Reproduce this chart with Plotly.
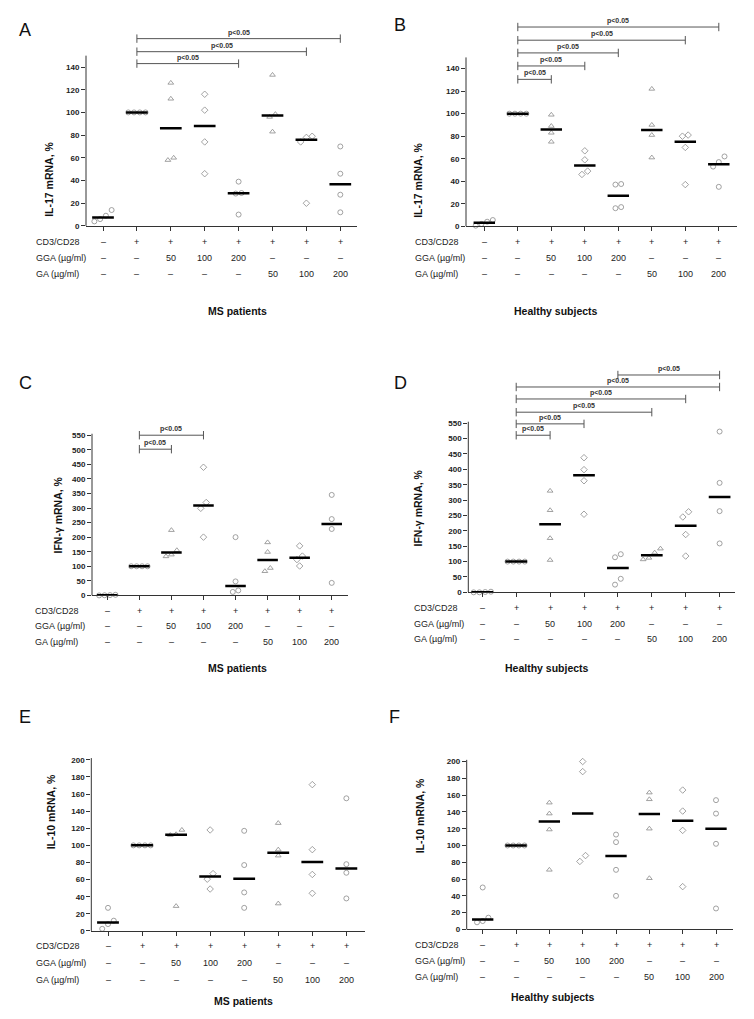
"""
Expresión de IL-17, IFN-γ e IL-10 (mRNA, %) en pacientes con EM y sujetos sanos
"""
import numpy as np
import plotly.graph_objects as go

W, H = 754, 1019
FONT = 'Arial, Liberation Sans, sans-serif'

# filas de la tabla de condiciones
row_labels = ['CD3/CD28', 'GGA (µg/ml)', 'GA (µg/ml)']
cd3 = ['–', '+', '+', '+', '+', '+', '+', '+']
gga = ['–', '–', '50', '100', '200', '–', '–', '–']
ga = ['–', '–', '–', '–', '–', '50', '100', '200']

# valores individuales (4 donantes por condición)
il17_ms = [[14, 9, 4, 6], [100, 100, 100, 100], [126, 112, 58, 60], [116, 102, 74, 46],
           [39, 29, 28.5, 10], [133, 98.5, 96, 83], [78, 74, 79, 20], [70, 46, 27.5, 12]]
il17_hs = [[4, 0.5, 2, 5.5], [100, 100, 100, 100], [99, 89, 83, 75], [67, 59, 49, 46],
           [37.5, 37, 16, 17], [122, 90, 81, 61], [80, 81, 70, 37], [62, 57, 53, 35]]
ifng_ms = [[0, 1, 0.5, 2], [100, 100, 100, 100], [224, 155, 134, 140], [440, 319, 299, 200],
           [200, 48, 12, 17], [182, 149, 83, 94], [170, 135, 123, 101], [345, 262, 228, 43]]
ifng_hs = [[0, 0, 1, 2], [100, 100, 100, 100], [330, 267, 176, 105], [438, 399, 363, 254],
           [124, 114, 44, 25], [142, 107, 112, 129], [245, 262, 188, 118], [523, 356, 264, 159]]
il10_ms = [[27, 12, 8, 2.5], [100, 100, 100, 100], [118, 113, 112, 29], [118, 67, 60.5, 49],
           [117, 77, 45, 27], [126, 95, 88, 32], [171, 95, 66, 44], [155, 78, 68, 38]]
il10_hs = [[50, 14, 8.5, 10], [100, 100, 100, 100], [151, 138, 119, 71], [200, 188, 88, 81],
           [113, 104, 71, 40], [163, 155, 120, 61], [166, 141, 118, 51], [154, 138, 102, 25]]

# comparaciones significativas (grupo inicial, grupo final)
sig_a = [(1, 4), (1, 6), (1, 7)]
sig_b = [(1, 2), (1, 3), (1, 4), (1, 6), (1, 7)]
sig_c = [(1, 2), (1, 3)]
sig_d = [(1, 2), (1, 3), (1, 5), (1, 6), (1, 7), (4, 7)]

symbols = ['circle-open', 'circle-open', 'triangle-up-open', 'diamond-open',
           'circle-open', 'triangle-up-open', 'diamond-open', 'circle-open']

# geometría de cada panel (en píxeles de la imagen)
panels = [
    dict(letra='A', datos=il17_ms, titulo='IL-17 mRNA, %', grupo='MS patients', sig=sig_a,
         sig_y=[143, 153.5, 165], xpx=(78, 349), c0=95, sp=33.9, y0=219, esc=1.1407,
         ytop=175, axtop=150, dtick=20, tmax=140, pos_letra=(17, 22), pos_tit=(33, 133),
         filas=(235, 251, 267), lab_x=26, grupo_pos=(198, 296)),
    dict(letra='B', datos=il17_hs, titulo='IL-17 mRNA, %', grupo='Healthy subjects', sig=sig_b,
         sig_y=[130.5, 142.4, 154, 165.3, 177], xpx=(458, 729), c0=476.3, sp=33.5, y0=219.3,
         esc=1.131, ytop=190, axtop=150, dtick=20, tmax=140, pos_letra=(392, 17),
         pos_tit=(410, 133), filas=(235, 251.7, 267.3), lab_x=405, grupo_pos=(592, 296)),
    dict(letra='C', datos=ifng_ms, titulo='IFN-γ mRNA, %', grupo='MS patients', sig=sig_c,
         sig_y=[502, 550], xpx=(84, 339.5), c0=99.3, sp=32.06, y0=590.3, esc=0.2927,
         ytop=590, axtop=555, dtick=50, tmax=550, pos_letra=(17, 377), pos_tit=(42, 510),
         filas=(605.7, 621, 636.7), lab_x=25, grupo_pos=(198, 663)),
    dict(letra='D', datos=ifng_hs, titulo='IFN-γ mRNA, %', grupo='Healthy subjects', sig=sig_d,
         sig_y=[511, 548, 586, 629, 668, 707], xpx=(460.3, 727), c0=474.3, sp=33.9, y0=587.2,
         esc=0.3089, ytop=730, axtop=555, dtick=50, tmax=550, pos_letra=(392, 377),
         pos_tit=(410, 502), filas=(602.7, 619, 634.3), lab_x=404, grupo_pos=(583, 663)),
    dict(letra='E', datos=il10_ms, titulo='IL-10 mRNA, %', grupo='MS patients', sig=[],
         sig_y=[], xpx=(83.3, 356.7), c0=100, sp=34.05, y0=927.5, esc=0.86,
         ytop=205, axtop=202, dtick=20, tmax=200, pos_letra=(17, 712), pos_tit=(35, 848),
         filas=(942.7, 960, 976.7), lab_x=26, grupo_pos=(204, 1006)),
    dict(letra='F', datos=il10_hs, titulo='IL-10 mRNA, %', grupo='Healthy subjects', sig=[],
         sig_y=[], xpx=(458.7, 724.7), c0=474.7, sp=33.33, y0=926, esc=0.8438,
         ytop=205, axtop=202, dtick=20, tmax=200, pos_letra=(386, 712), pos_tit=(412, 852),
         filas=(941.7, 957.7, 973.3), lab_x=405, grupo_pos=(589, 1002)),
]


def jitter(vals, tol):
    """Separa horizontalmente los puntos con valores casi iguales"""
    vals = np.asarray(vals, dtype=float)
    order = np.argsort(vals)
    offs = np.zeros(len(vals))
    clusters, cur = [], [order[0]]
    for a, b in zip(order[:-1], order[1:]):
        if vals[b] - vals[a] < tol:
            cur.append(b)
        else:
            clusters.append(cur)
            cur = [b]
    clusters.append(cur)
    for c in clusters:
        for r, idx in enumerate(c):
            offs[idx] = (r - (len(c) - 1) / 2) * 0.17
    return offs


fig = go.Figure()
layout = {}
shapes = []
annotations = []

for i, p in enumerate(panels):
    n = '' if i == 0 else str(i + 1)
    xa, ya = 'x' + n, 'y' + n
    x0, x1 = p['xpx']
    y_top_px = p['y0'] - p['ytop'] * p['esc']

    layout['xaxis' + n] = dict(
        domain=[x0 / W, x1 / W],
        range=[(x0 - p['c0']) / p['sp'], (x1 - p['c0']) / p['sp']],
        anchor=ya, tickvals=list(range(8)), showticklabels=False,
        ticks='outside', ticklen=4, tickcolor='#333', showline=True,
        linecolor='#333', linewidth=1, showgrid=False, zeroline=False
    )
    layout['yaxis' + n] = dict(
        domain=[1 - p['y0'] / H, 1 - y_top_px / H],
        range=[0, p['ytop']], anchor=xa,
        tickvals=list(range(0, p['tmax'] + 1, p['dtick'])),
        ticks='outside', ticklen=4, tickcolor='#333', showline=False,
        showgrid=False, zeroline=False,
        tickfont=dict(family=FONT, size=8, color='#222', weight='bold')
    )
    # eje Y dibujado hasta su tope real
    shapes.append(dict(type='line', xref='paper', yref='paper',
                       x0=x0 / W, x1=x0 / W, y0=1 - p['y0'] / H,
                       y1=1 - (p['y0'] - p['axtop'] * p['esc']) / H,
                       line=dict(color='#333', width=1)))

    # puntos individuales
    tol = 6 / p['esc']
    xs, ys, syms = [], [], []
    for j, vals in enumerate(p['datos']):
        offs = jitter(vals, tol)
        xs += list(j + offs)
        ys += list(vals)
        syms += [symbols[j]] * len(vals)
    fig.add_trace(go.Scatter(
        x=xs, y=ys, mode='markers', xaxis=xa, yaxis=ya, cliponaxis=False,
        marker=dict(symbol=syms, size=5, color='#8a8a8a', line=dict(color='#8a8a8a', width=0.8)),
        hoverinfo='y'
    ))

    # medianas
    mx, my = [], []
    for j, vals in enumerate(p['datos']):
        m = float(np.median(vals))
        mx += [j - 0.32, j + 0.32, None]
        my += [m, m, None]
    fig.add_trace(go.Scatter(
        x=mx, y=my, mode='lines', xaxis=xa, yaxis=ya, cliponaxis=False,
        line=dict(color='black', width=2.5), hoverinfo='skip'
    ))

    # barras de significación
    for (g0, g1), yb in zip(p['sig'], p['sig_y']):
        fig.add_trace(go.Scatter(
            x=[g0, g1], y=[yb, yb], mode='lines+markers', xaxis=xa, yaxis=ya,
            cliponaxis=False, line=dict(color='#555', width=1),
            marker=dict(symbol='line-ns-open', size=6, line=dict(color='#555', width=1)),
            hoverinfo='skip'
        ))
        annotations.append(dict(
            x=(g0 + g1) / 2, y=yb, xref=xa, yref=ya, text='p<0.05', showarrow=False,
            yanchor='bottom', yshift=0,
            font=dict(family=FONT, size=7, color='#333', weight='bold')
        ))

    # tabla de condiciones
    for label, vals, ypx in zip(row_labels, [cd3, gga, ga], p['filas']):
        annotations.append(dict(
            x=p['lab_x'] / W, y=1 - ypx / H, xref='paper', yref='paper', text=label,
            showarrow=False, xanchor='left', yanchor='middle',
            font=dict(family=FONT, size=9, color='#222')
        ))
        for j, v in enumerate(vals):
            annotations.append(dict(
                x=j, y=1 - ypx / H, xref=xa, yref='paper', text=v, showarrow=False,
                xanchor='center', yanchor='middle',
                font=dict(family=FONT, size=9, color='#222')
            ))

    # título del eje Y, grupo y letra del panel
    annotations.append(dict(
        x=p['pos_tit'][0] / W, y=1 - p['pos_tit'][1] / H, xref='paper', yref='paper',
        text=p['titulo'], textangle=-90, showarrow=False,
        font=dict(family=FONT, size=10.5, color='#111', weight='bold')
    ))
    annotations.append(dict(
        x=p['grupo_pos'][0] / W, y=1 - p['grupo_pos'][1] / H, xref='paper', yref='paper',
        text=p['grupo'], showarrow=False,
        font=dict(family=FONT, size=10.5, color='#111', weight='bold')
    ))
    annotations.append(dict(
        x=p['pos_letra'][0] / W, y=1 - p['pos_letra'][1] / H, xref='paper', yref='paper',
        text=p['letra'], showarrow=False, xanchor='center', yanchor='middle',
        font=dict(family=FONT, size=18, color='#111')
    ))

fig.update_layout(
    width=W, height=H, margin=dict(l=0, r=0, t=0, b=0),
    plot_bgcolor='white', paper_bgcolor='white', showlegend=False,
    shapes=shapes, annotations=annotations, **layout
)

fig.write_html("out.html")
